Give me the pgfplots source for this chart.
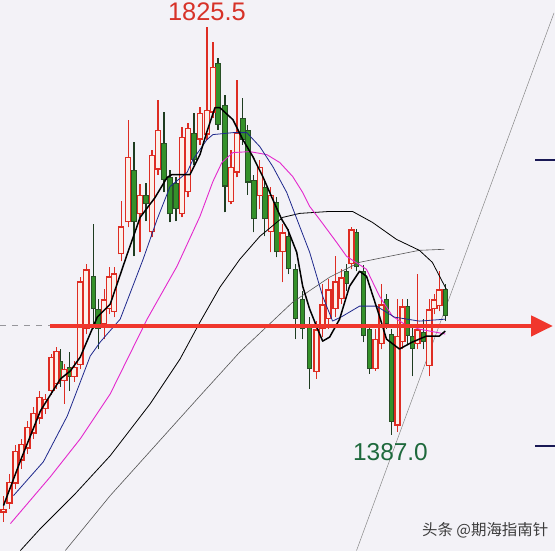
\documentclass[border=0pt]{standalone}
\usepackage{pgfplots}
\pgfplotsset{compat=1.18}
\usepackage{pgfplotstable}
\usepackage{fontspec}
\setmainfont{Liberation Sans}
\newfontfamily\cjk{Noto Sans CJK SC}
\usetikzlibrary{arrows.meta}

\definecolor{bgc}{RGB}{243,242,247}
\definecolor{upred}{RGB}{222,45,35}
\definecolor{upfill}{RGB}{252,240,234}
\definecolor{dngreen}{RGB}{52,145,42}
\definecolor{dnedge}{RGB}{40,80,38}
\definecolor{dnwick}{RGB}{30,60,32}
\definecolor{maten}{RGB}{30,40,140}
\definecolor{matwenty}{RGB}{228,40,205}
\definecolor{mafar}{RGB}{85,85,85}
\definecolor{trendc}{RGB}{135,135,135}
\definecolor{arrowred}{RGB}{240,55,45}
\definecolor{dashgrey}{RGB}{150,150,155}
\definecolor{hinavy}{RGB}{25,25,85}
\definecolor{hilabel}{RGB}{215,50,40}
\definecolor{lolabel}{RGB}{30,105,60}
\definecolor{markc}{RGB}{60,60,60}

% rising sessions: open high low close
\pgfplotstableread{
x o h l c
3 1303.3 1321.6 1293.7 1307.6
9 1313.0 1345.2 1307.6 1336.6
15 1334.4 1376.2 1329.1 1369.8
21 1359.1 1382.7 1350.5 1377.3
27 1372.0 1402.0 1366.6 1395.5
33 1388.0 1417.0 1382.7 1410.6
39 1404.1 1434.1 1398.8 1427.7
45 1414.8 1430.9 1409.5 1425.6
51 1434.1 1473.8 1429.9 1470.6
56 1441.6 1481.3 1436.3 1477.0
64 1444.9 1463.1 1420.2 1457.7
74 1449.2 1466.3 1443.8 1459.9
80 1462.0 1556.4 1457.7 1552.1
86 1500.6 1570.3 1495.3 1564.9
104 1506.0 1543.5 1489.9 1532.8
109 1522.1 1567.1 1516.7 1557.4
114 1518.8 1567.1 1513.5 1560.6
121 1581.0 1637.8 1573.5 1611.0
128 1615.3 1725.8 1610.0 1686.1
140 1623.9 1656.1 1583.2 1645.3
152 1604.6 1693.6 1599.2 1688.2
158 1672.1 1747.2 1666.8 1715.0
182 1623.9 1718.2 1620.7 1707.5
188 1647.5 1722.5 1642.1 1717.2
200 1704.3 1739.7 1699.0 1733.3
207 1709.7 1825.5 1704.3 1736.5
213 1733.3 1809.4 1727.9 1782.6
231 1636.8 1693.6 1634.6 1675.4
237 1668.9 1768.6 1663.6 1711.8
260 1643.2 1682.9 1629.3 1675.4
271 1604.6 1652.9 1583.2 1645.3
283 1583.2 1613.2 1551.0 1604.6
317 1454.5 1509.2 1447.0 1500.6
323 1500.6 1548.9 1492.0 1527.4
329 1511.3 1554.2 1500.6 1543.5
336 1522.1 1578.9 1513.5 1552.1
342 1532.8 1564.9 1527.4 1556.4
352 1570.3 1610.0 1564.9 1607.8
376 1457.7 1500.6 1455.6 1489.9
382 1484.5 1548.9 1479.2 1527.4
398 1396.6 1532.8 1390.2 1493.1
403 1486.7 1532.8 1479.2 1525.3
418 1484.5 1559.6 1479.2 1500.6
430 1460.9 1532.8 1450.2 1522.1
435 1522.1 1538.1 1516.7 1532.8
440 1525.3 1562.8 1519.9 1543.5
}\upbars

% falling sessions: open high low close
\pgfplotstableread{
x o h l c
60 1466.3 1479.2 1438.4 1447.0
69 1459.9 1476.0 1434.1 1449.2
93 1557.4 1613.2 1500.6 1522.1
98 1522.1 1532.8 1479.2 1500.6
134 1672.1 1702.2 1578.9 1615.3
146 1645.3 1658.2 1616.4 1634.6
164 1701.1 1734.3 1647.5 1661.4
170 1664.6 1672.1 1615.3 1623.9
176 1658.2 1663.6 1616.4 1629.3
194 1711.8 1733.3 1677.5 1682.9
218 1786.9 1792.2 1715.0 1720.4
225 1741.8 1752.6 1626.0 1653.9
243 1727.9 1749.3 1699.0 1704.3
248 1715.0 1720.4 1645.3 1658.2
254 1661.4 1666.8 1604.6 1618.5
265 1653.9 1661.4 1600.3 1618.5
277 1636.8 1642.1 1577.8 1583.2
289 1600.3 1607.8 1559.6 1564.9
296 1564.9 1570.3 1489.9 1511.3
303 1532.8 1541.4 1489.9 1500.6
310 1506.0 1513.5 1436.3 1457.7
347 1562.8 1570.3 1541.4 1548.9
357 1604.6 1607.8 1562.8 1567.1
364 1562.8 1569.2 1486.7 1493.1
370 1500.6 1506.0 1452.4 1457.7
387 1532.8 1538.1 1500.6 1506.0
392 1495.3 1500.6 1387.0 1400.9
408 1525.3 1532.8 1484.5 1493.1
413 1493.1 1506.0 1450.2 1479.2
424 1497.4 1511.3 1479.2 1486.7
446 1543.5 1548.9 1509.2 1514.5
}\dnbars

% moving averages
\pgfplotstableread{
x y
3 1310.9
20 1359.1
40 1412.7
60 1447.0
70 1455.6
80 1470.6
97 1513.5
110 1527.4
127 1581.0
140 1620.7
155 1642.1
167 1663.6
172 1666.8
190 1666.8
200 1688.2
207 1712.9
215 1738.6
220 1738.6
233 1725.8
243 1704.3
253 1686.1
263 1664.6
273 1640.0
282 1618.5
288 1607.8
297 1583.2
303 1546.7
310 1522.1
318 1500.6
323 1487.7
330 1492.0
340 1511.3
350 1546.7
360 1562.8
367 1557.4
380 1514.5
387 1489.9
400 1479.2
413 1486.7
427 1493.1
440 1493.1
446 1498.5
}\mafive

\pgfplotstableread{
x y
13 1321.6
43 1358.0
67 1407.3
90 1471.7
100 1486.7
120 1511.3
143 1575.7
157 1618.5
170 1653.9
187 1668.9
193 1682.9
207 1704.3
213 1709.7
233 1711.8
247 1711.8
260 1696.8
273 1675.4
287 1647.5
300 1611.0
310 1583.2
323 1536.0
333 1509.2
343 1514.5
360 1525.3
377 1525.3
395 1513.5
420 1509.2
446 1511.3
}\maten

\pgfplotstableread{
x y
10 1291.6
50 1341.9
80 1382.7
110 1430.9
147 1511.3
177 1568.2
200 1621.8
213 1659.3
222 1679.7
233 1690.4
250 1691.4
267 1688.2
280 1679.7
293 1664.6
303 1647.5
310 1632.5
320 1618.5
337 1593.9
347 1578.9
367 1564.9
380 1536.0
393 1514.5
405 1506.0
420 1500.6
446 1495.3
}\matwenty

\pgfplotstableread{
x y
20 1262.6
40 1286.2
75 1323.7
110 1364.5
150 1420.2
180 1468.4
200 1508.1
220 1545.6
240 1575.7
260 1600.3
283 1620.7
300 1625.0
330 1627.1
353 1627.1
373 1615.3
397 1597.1
420 1585.3
433 1572.4
447 1543.5
}\maforty

\pgfplotstableread{
x y
65 1262.6
83 1286.2
110 1321.6
200 1428.8
240 1476.0
293 1529.6
330 1556.4
360 1572.4
390 1578.9
420 1585.3
445 1586.4
}\masixty

% one stroke per candle part, drawn as a vertical error bar
\pgfplotsset{
  candlepart/.style 2 args={only marks, mark=*, mark size=0pt,
    mark options={draw=none, fill=none}, forget plot,
    error bars/.cd, y dir=plus, y explicit, error mark=none,
    error bar style={line width=#1, draw=#2, line cap=butt}},
}

\begin{document}
\begin{tikzpicture}
\begin{axis}[
  width=556pt, height=552pt, scale only axis,
  xmin=0, xmax=556, ymin=1262.6, ymax=1854.4,
  hide axis, clip=false,
]
\fill[bgc] (rel axis cs:0,0) rectangle (rel axis cs:1,1);

% level line and trend line
\draw[dashgrey, line width=1pt, dash pattern=on 6pt off 6pt] (axis cs:0,1504.0) -- (axis cs:530,1504.0);
\addplot[trendc, line width=0.5pt, forget plot] coordinates {(357,1262.6) (555,1840.5)};

% wicks
\addplot[candlepart={1.3pt}{upred}] table[x=x, y=l, y error plus expr=\thisrow{h}-\thisrow{l}] {\upbars};
\addplot[candlepart={1.3pt}{dnwick}] table[x=x, y=l, y error plus expr=\thisrow{h}-\thisrow{l}] {\dnbars};
% bodies
\addplot[candlepart={5.5pt}{dnedge}] table[x=x, y=c, y error plus expr=\thisrow{o}-\thisrow{c}] {\dnbars};
\addplot[candlepart={3.5pt}{dngreen}] table[x=x, y expr=\thisrow{c}+1.1, y error plus expr={max(\thisrow{o}-\thisrow{c}-2.2,0)}] {\dnbars};
\addplot[candlepart={6.5pt}{upred}] table[x=x, y=o, y error plus expr=\thisrow{c}-\thisrow{o}] {\upbars};
\addplot[candlepart={3.7pt}{upfill}] table[x=x, y expr=\thisrow{o}+1.5, y error plus expr={max(\thisrow{c}-\thisrow{o}-3.0,0)}] {\upbars};

% moving averages
\addplot[mafar, line width=0.6pt, line join=round] table {\masixty};
\addplot[black, line width=0.8pt, line join=round] table {\maforty};
\addplot[matwenty, line width=0.9pt, line join=round] table {\matwenty};
\addplot[maten, line width=0.8pt, line join=round] table {\maten};
\addplot[black, line width=1.5pt, line join=round] table {\mafive};

% support arrow
\draw[arrowred, line width=4.5pt, -{Triangle[length=22pt, width=20pt]}] (axis cs:50,1504.0) -- (axis cs:554,1504.0);

% price scale marks
\draw[hinavy, line width=2pt] (axis cs:536,1682.9) -- (axis cs:556,1682.9);
\draw[hinavy, line width=2pt] (axis cs:536,1375.2) -- (axis cs:556,1375.2);

% extreme labels
\node[hilabel, inner sep=0pt, font=\fontsize{25.5}{29}\selectfont] at (axis cs:207,1841.5) {1825.5};
\node[lolabel, inner sep=0pt, font=\fontsize{24.5}{28}\selectfont] at (axis cs:391,1368.7) {1387.0};

\node[markc, inner sep=0pt, font=\cjk\fontsize{15.5}{18}\selectfont] at (axis cs:486,1284.0) {头条 @期海指南针};
\end{axis}
\end{tikzpicture}
\end{document}
